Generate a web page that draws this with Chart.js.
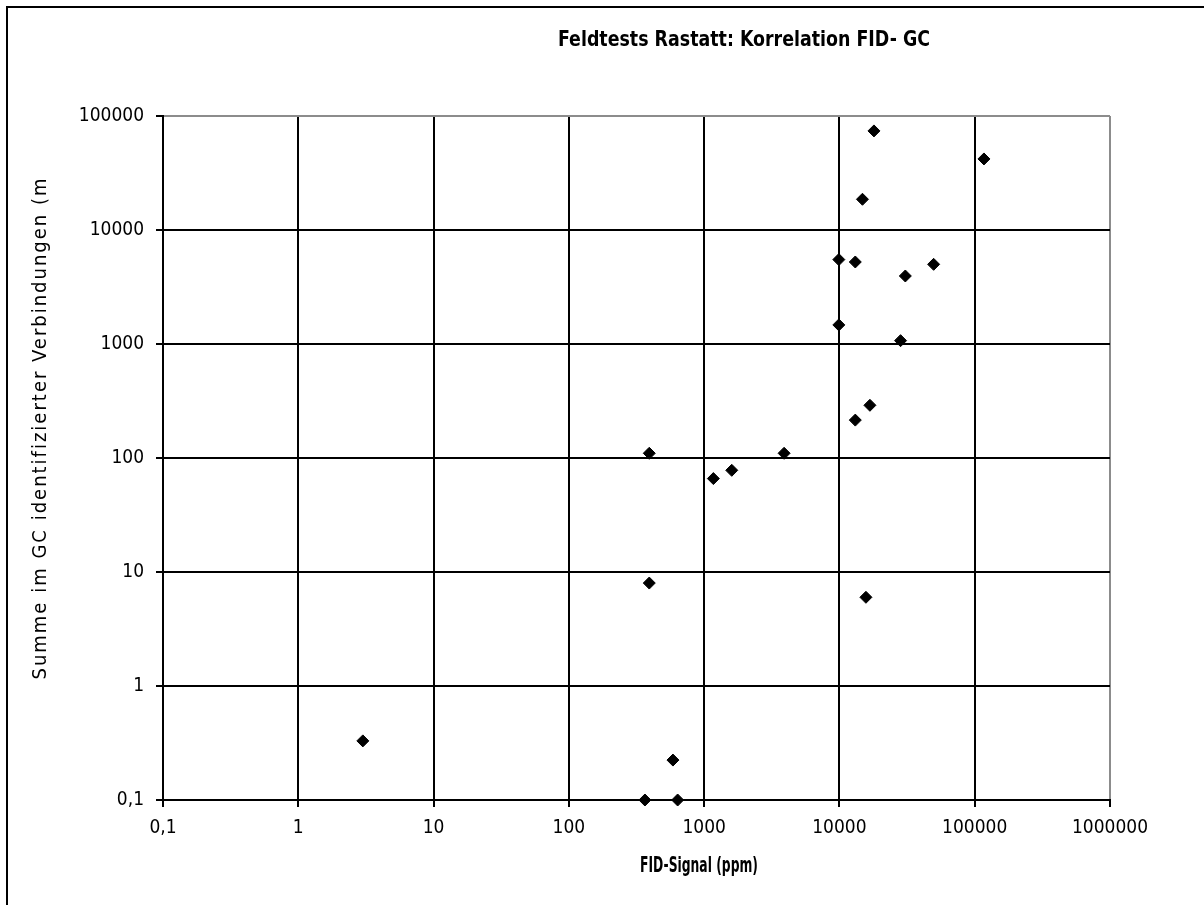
<!DOCTYPE html>
<html>
<head>
<meta charset="utf-8">
<script src="https://cdn.jsdelivr.net/npm/chart.js@4.4.1/dist/chart.umd.min.js"></script>
<style>
  html, body { margin: 0; padding: 0; background: #fff; }
  #wrap { width: 1204px; height: 905px; position: relative; }
</style>
</head>
<body>
<div id="wrap"><canvas id="chart" width="1204" height="905"></canvas></div>
<script>
const FONT = "'Liberation Sans Narrow', 'DejaVu Sans Condensed', 'Arial Narrow', 'Liberation Sans', sans-serif";

const TITLE = 'Feldtests Rastatt: Korrelation FID- GC';
const X_TITLE = 'FID-Signal (ppm)';
const Y_TITLE = 'Summe im GC identifizierter Verbindungen (m';

// FID-Signal (ppm) / Summe GC
const fidSignal = [3, 588, 365, 637, 393, 393, 1170, 1600, 3900, 18000, 117000, 14800, 9900, 13100, 49700, 30700, 9900, 28300, 16800, 13100, 15700];
const gcSumme   = [0.33, 0.224, 0.1, 0.1, 8, 110, 66, 78, 110, 74000, 42000, 18600, 5500, 5240, 5000, 3950, 1470, 1070, 290, 215, 6];

const xTicks = [0.1, 1, 10, 100, 1000, 10000, 100000, 1000000];
const yTicks = [0.1, 1, 10, 100, 1000, 10000, 100000];

const points = fidSignal.map((x, i) => ({ x, y: gcSumme[i] }));
const fmt = v => String(v).replace('.', ',');

// Rahmen + Titel selbst zeichnen (Excel-Optik)
const deko = {
    id: 'deko',
    afterDraw(chart) {
        const c = chart.ctx;
        c.save();
        c.fillStyle = '#000';
        c.fillRect(6, 6, 1198, 2);
        c.fillRect(6, 6, 2, 899);
        c.textAlign = 'center';
        c.textBaseline = 'middle';
        c.font = `bold 21px ${FONT}`;
        c.fillText(TITLE, 744, 41, 372);
        c.font = `bold 22px ${FONT}`;
        c.fillText(X_TITLE, 699, 866, 118);
        c.translate(41, 428);
        c.rotate(-Math.PI / 2);
        c.font = `20px ${FONT}`;
        c.letterSpacing = '2px';
        c.fillText(Y_TITLE, 0, 0, 515);
        c.restore();
    }
};

const gridCol = (max) => ctx => (ctx.tick && ctx.tick.value === max) ? '#8c8c8c' : '#000';

new Chart(document.getElementById('chart'), {
    type: 'scatter',
    data: {
        datasets: [{
            data: points,
            pointStyle: 'rectRot',
            pointRadius: 6,
            pointHoverRadius: 6,
            backgroundColor: '#000',
            borderColor: '#000',
            borderWidth: 1,
            clip: false
        }]
    },
    options: {
        responsive: false,
        animation: false,
        events: [],
        layout: { padding: { left: 0, top: 116, right: 94, bottom: 0 } },
        plugins: { legend: { display: false }, tooltip: { enabled: false } },
        scales: {
            x: {
                type: 'logarithmic',
                min: 0.1, max: 1000000,
                afterBuildTicks: s => { s.ticks = xTicks.map(v => ({ value: v })); },
                afterFit: s => { s.height = 105; },
                grid: { color: gridCol(1000000), tickColor: '#000', lineWidth: 2, tickLength: 7 },
                border: { color: '#000', width: 2 },
                ticks: { color: '#000', padding: 10, maxRotation: 0, autoSkip: false, font: { family: FONT, size: 19 }, callback: v => fmt(v) }
            },
            y: {
                type: 'logarithmic',
                min: 0.1, max: 100000,
                afterBuildTicks: s => { s.ticks = yTicks.map(v => ({ value: v })); },
                afterFit: s => { s.width = 163; },
                grid: { color: gridCol(100000), tickColor: '#000', lineWidth: 2, tickLength: 7 },
                border: { color: '#000', width: 2 },
                ticks: { color: '#000', padding: 12, autoSkip: false, font: { family: FONT, size: 19 }, callback: v => fmt(v) }
            }
        }
    },
    plugins: [deko]
});
</script>
</body>
</html>
